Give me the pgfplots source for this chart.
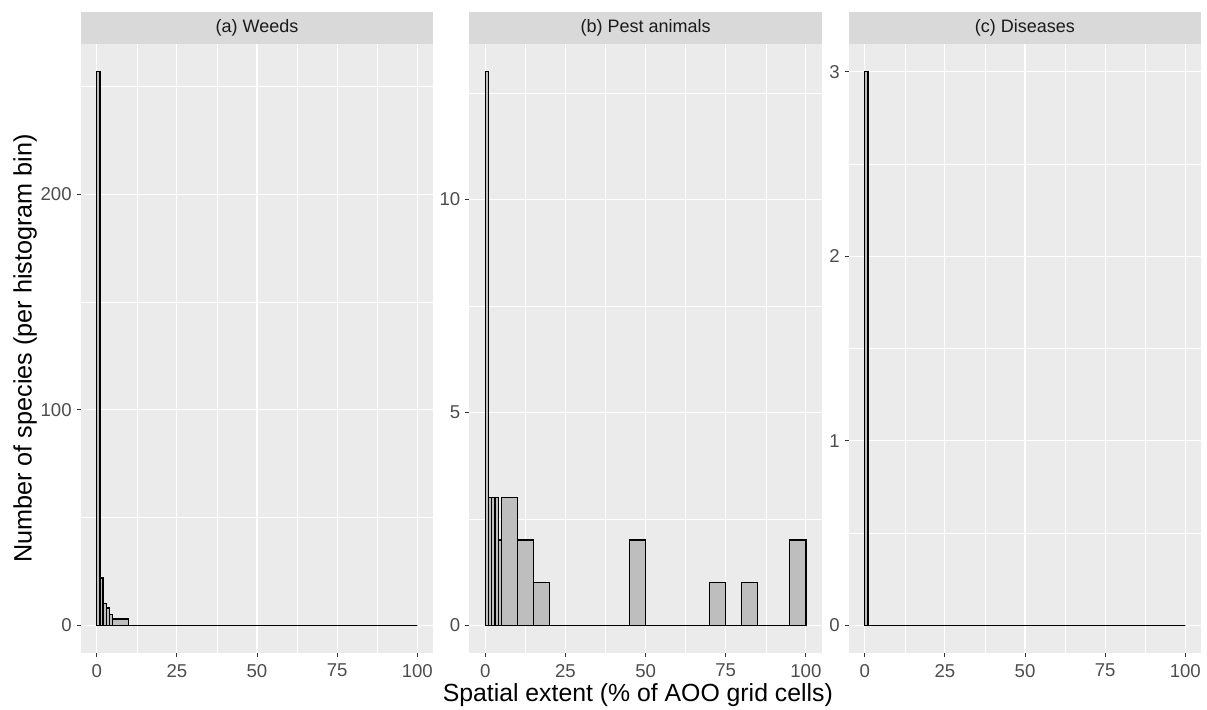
\documentclass[border=0pt]{standalone}
\usepackage{fontspec}
\setmainfont{Liberation Sans}
\usepackage{pgfplots}
\pgfplotsset{compat=1.18}

\definecolor{panelbg}{HTML}{EBEBEB}
\definecolor{stripbg}{HTML}{D9D9D9}
\definecolor{barfill}{HTML}{BEBEBE}
\definecolor{ticktext}{HTML}{4D4D4D}
\definecolor{tickline}{HTML}{333333}
\definecolor{striptext}{HTML}{1A1A1A}

\pgfplotsset{
  facet/.style={
    scale only axis, width=176.3pt, height=304.5pt,
    anchor=south west,
    xmin=-5, xmax=105,
    xtick={0,25,50,75,100},
    minor xtick={12.5,37.5,62.5,87.5},
    grid=both,
    major grid style={white, line width=0.55pt},
    minor grid style={white, line width=0.27pt},
    axis background/.style={fill=panelbg},
    axis line style={draw=none},
    tick align=outside, xtick pos=bottom, ytick pos=left,
    major tick length=2pt, minor tick length=0pt,
    tick style={tickline, line width=0.5pt},
    tick label style={text=ticktext, font=\fontsize{9.3}{11}\selectfont},
    yticklabel style={xshift=1pt},
    /pgf/number format/assume math mode=true,
    scaled y ticks=false,
  },
  hist/.style={/tikz/ybar interval, fill=barfill, draw=black, line width=0.65pt},
}

\begin{document}
\begin{tikzpicture}
% (a) Weeds
\begin{axis}[facet, name=a, at={(40.35pt,28pt)},
  ymin=-12.85, ymax=269.85,
  ytick={0,100,200}, minor ytick={50,150,250}]
\addplot[hist] coordinates {
  (0,257)(1,22)(2,10)(3,8)(4,5)(5,3)(10,0)(15,0)(20,0)(25,0)(30,0)(35,0)(40,0)
  (45,0)(50,0)(55,0)(60,0)(65,0)(70,0)(75,0)(80,0)(85,0)(90,0)(95,0)(100,0)};
\end{axis}
% (b) Pest animals
\begin{axis}[facet, name=b, at={(234.65pt,28pt)},
  ymin=-0.65, ymax=13.65,
  ytick={0,5,10}, minor ytick={2.5,7.5,12.5}]
\addplot[hist] coordinates {
  (0,13)(1,3)(2,3)(3,3)(4,2)(5,3)(10,2)(15,1)(20,0)(25,0)(30,0)(35,0)(40,0)
  (45,2)(50,0)(55,0)(60,0)(65,0)(70,1)(75,0)(80,1)(85,0)(90,0)(95,2)(100,0)};
\end{axis}
% (c) Diseases
\begin{axis}[facet, name=c, at={(424.35pt,28pt)},
  ymin=-0.15, ymax=3.15,
  ytick={0,1,2,3}, minor ytick={0.5,1.5,2.5}]
\addplot[hist] coordinates {
  (0,3)(1,0)(2,0)(3,0)(4,0)(5,0)(10,0)(15,0)(20,0)(25,0)(30,0)(35,0)(40,0)
  (45,0)(50,0)(55,0)(60,0)(65,0)(70,0)(75,0)(80,0)(85,0)(90,0)(95,0)(100,0)};
\end{axis}

% facet strips
\foreach \p/\t in {a/(a) Weeds, b/(b) Pest animals, c/(c) Diseases}{
  \fill[stripbg] (\p.north west) rectangle ([yshift=16pt]\p.north east);
  \node[text=striptext, font=\fontsize{9}{11}\selectfont] at ([yshift=8pt]\p.north) {\t};
}

% axis titles
\node[rotate=90, anchor=base, font=\fontsize{12.6}{14}\selectfont] at (15.85pt,180.25pt)
  {Number of species (per histogram bin)};
\node[anchor=base, font=\fontsize{12.4}{14}\selectfont] at (318.9pt,4pt)
  {Spatial extent (\% of AOO grid cells)};

\pgfresetboundingbox
\path[use as bounding box] (0,0) rectangle (603.5pt,354.5pt);
\end{tikzpicture}
\end{document}
